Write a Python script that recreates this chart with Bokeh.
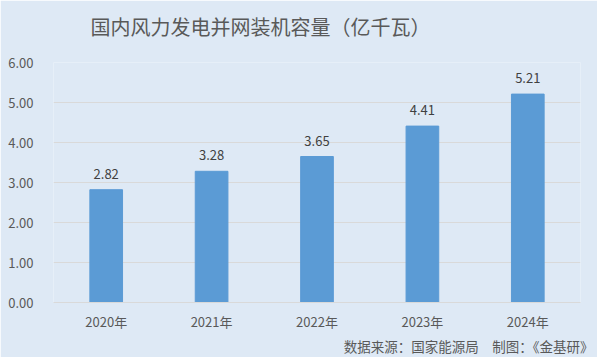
from bokeh.plotting import figure
from bokeh.models import ColumnDataSource, Title, SingleIntervalTicker, NumeralTickFormatter, Range1d, LabelSet
from bokeh.core.properties import value
from bokeh.embed import file_html
from bokeh.resources import INLINE

years = ["2020年", "2021年", "2022年", "2023年", "2024年"]
values = [2.82, 3.28, 3.65, 4.41, 5.21]
labels = ["2.82", "3.28", "3.65", "4.41", "5.21"]
title_text = "国内风力发电并网装机容量（亿千瓦）"
source_text = "数据来源：国家能源局\u3000制图：《金基研》"

FONT = "Noto Sans CJK SC"
BG = "#dee9f5"

src = ColumnDataSource(dict(x=years, top=values, lab=labels))

p = figure(width=597, height=357, x_range=years, y_range=Range1d(0, 6),
           output_backend="svg", toolbar_location=None,
           min_border_left=53, min_border_right=17, min_border_top=62, min_border_bottom=55)
p.background_fill_color = BG
p.border_fill_color = BG
p.outline_line_color = None

p.title.text = title_text
p.title.align = "left"
p.title.offset = 37
p.title.text_font = FONT
p.title.text_font_size = "20px"
p.title.text_font_style = "normal"
p.title.text_color = "#595959"
p.title.standoff = 16

spacer = Title(text=" ", text_font_size="9px", standoff=2, text_color=BG)
p.add_layout(spacer, "above")

src_title = Title(text=source_text, align="right",
                  text_font=FONT, text_font_size="13.5px", text_font_style="normal",
                  text_color="#595959", standoff=0, offset=-13)
p.add_layout(src_title, "below")

p.vbar(x="x", top="top", width=0.31, source=src, color="#5b9bd5")

p.add_layout(LabelSet(x="x", y="top", text="lab", source=src, text_align="center",
                      text_baseline="bottom", y_offset=11, text_font=value(FONT),
                      text_font_size=value("13px"), text_color="#404040"))

p.yaxis.ticker = SingleIntervalTicker(interval=1)
p.yaxis.formatter = NumeralTickFormatter(format="0.00")
p.yaxis.axis_line_color = None
p.yaxis.major_tick_line_color = None
p.yaxis.minor_tick_line_color = None
p.yaxis.major_label_text_font = FONT
p.yaxis.major_label_text_font_size = "13px"
p.yaxis.major_label_text_color = "#595959"
p.yaxis.major_label_standoff = 14

p.xaxis.axis_line_color = "#d9d9d9"
p.xaxis.major_tick_line_color = None
p.xaxis.minor_tick_line_color = None
p.xaxis.major_label_text_font = FONT
p.xaxis.major_label_text_font_size = "13px"
p.xaxis.major_label_text_color = "#595959"
p.xaxis.major_label_standoff = 3

p.xgrid.grid_line_color = None
p.ygrid.grid_line_color = "#d9d9d9"
p.x_range.range_padding = 0

open("out.html", "w").write(file_html(p, INLINE))
